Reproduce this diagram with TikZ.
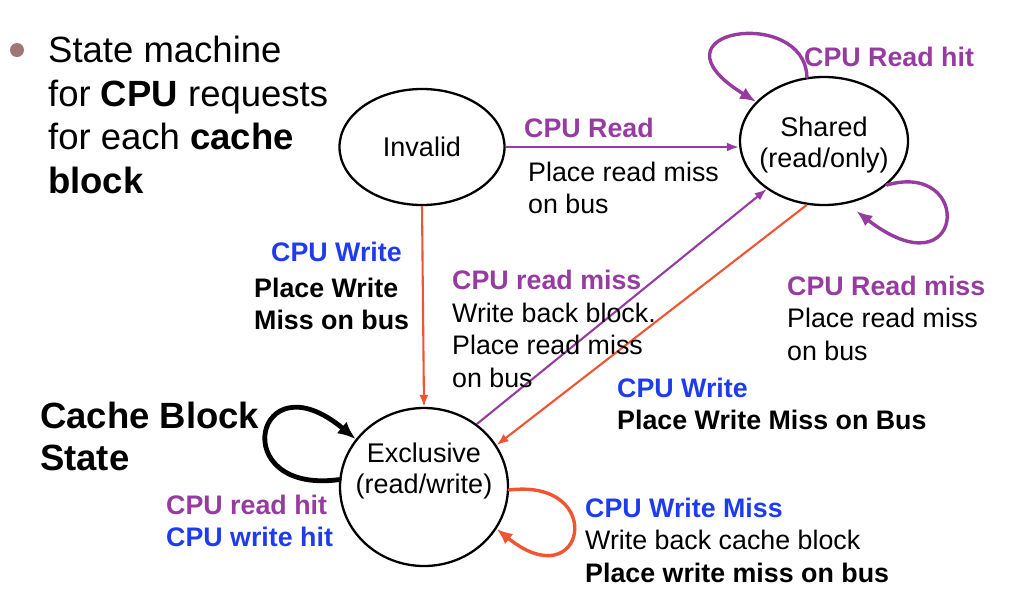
\documentclass[tikz,border=0pt]{standalone}
\usepackage{fontspec}
\setmainfont{Liberation Sans}
\usetikzlibrary{shapes.geometric,arrows.meta}
\definecolor{rdpurple}{RGB}{150,60,160}
\definecolor{wrblue}{RGB}{30,60,235}
\definecolor{wrorange}{RGB}{240,84,50}
\definecolor{dotcol}{RGB}{160,118,118}

\begin{document}
\begin{tikzpicture}[x=1pt,y=-1pt,
  state/.style={ellipse,draw,line width=2.3pt,inner sep=0pt,align=center,font=\fontsize{27}{31}\selectfont},
  stxt/.style={align=center,inner sep=0pt,font=\fontsize{27}{31}\selectfont},
  edge/.style={line width=2.1pt,-{Latex[length=12pt,width=9pt]}},
  loopy/.style={line width=3.4pt,line cap=round,-{Latex[length=16pt,width=13pt]}},
  lbl/.style={anchor=west,align=left,inner sep=0pt,font=\fontsize{26.8}{32.5}\selectfont},
  big/.style={anchor=west,align=left,inner sep=0pt,font=\fontsize{36.5}{43.5}\selectfont}]
\useasboundingbox (0,0) rectangle (1017,606);

% bullet text
\node[circle,fill=dotcol,inner sep=0pt,minimum size=14pt] (dot) at (17,50) {};
\node[big] (intro) at (48,115) {State machine\\for \textbf{CPU} requests\\for each \textbf{cache}\\\textbf{block}};

% states
\node[state,minimum width=165pt,minimum height=116pt] (inv) at (422,147) {Invalid};
\node[state,minimum width=168pt,minimum height=128pt,
      label={[stxt,yshift=-4pt]center:Shared\\(read/only)}] (shr) at (824,141) {};
\node[state,minimum width=168pt,minimum height=158pt,
      label={[stxt,yshift=16pt]center:Exclusive\\(read/write)}] (excl) at (424,487) {};

% transitions
\draw[rdpurple,edge] (inv.east) -- (inv.east -| shr.west);
\draw[wrorange,edge] (inv.south) -- (excl.north);
\draw[rdpurple,edge] (excl.50) -- (shr.-140);
\draw[wrorange,edge] (shr.-105) -- (excl.30);

% self loops
\draw[rdpurple,loopy] (shr.105) .. controls (805,5) and (640,30) .. (shr.150);
\draw[rdpurple,loopy,shorten >=12pt] (shr.-35) .. controls (975,160) and (965,295) .. (shr.-70);
\draw[black,loopy,line width=4.8pt,-{Latex[length=18pt,width=15pt]}] (excl.175) .. controls (225,495) and (255,355) .. (excl.145);
\draw[wrorange,loopy] (excl.-2) .. controls (608,478) and (585,600) .. (excl.-30);

% labels
\node[lbl,text=rdpurple,font=\fontsize{26.8}{32.5}\selectfont\bfseries] (rd) at (524,128) {CPU Read};
\node[lbl] (rdact) at (528,188) {Place read miss\\on bus};
\node[lbl,text=wrblue,font=\fontsize{26.8}{32.5}\selectfont\bfseries] (wr) at (271,252) {CPU Write};
\node[lbl,font=\fontsize{26.8}{32.5}\selectfont\bfseries] (wract) at (254,304) {Place Write\\Miss on bus};
\node[lbl] (rdmiss) at (452,329) {{\color{rdpurple}\bfseries CPU read miss}\\Write back block.\\Place read miss\\on bus};
\node[lbl] (shmiss) at (787,318) {{\color{rdpurple}\bfseries CPU Read miss}\\Place read miss\\on bus};
\node[lbl] (shwr) at (617,404) {{\color{wrblue}\bfseries CPU Write}\\\textbf{Place Write Miss on Bus}};
\node[big,font=\fontsize{36.5}{42}\selectfont\bfseries] (cbs) at (40,436) {Cache Block\\State};
\node[lbl,font=\fontsize{26.8}{32.5}\selectfont\bfseries] (hits) at (166,521) {{\color{rdpurple}CPU read hit}\\{\color{wrblue}CPU write hit}};
\node[lbl] (wmiss) at (585,540) {{\color{wrblue}\bfseries CPU Write Miss}\\Write back cache block\\\textbf{Place write miss on bus}};
\node[lbl,text=rdpurple,font=\fontsize{26.8}{32.5}\selectfont\bfseries] (rdhit) at (804,57) {CPU Read hit};
\end{tikzpicture}
\end{document}
